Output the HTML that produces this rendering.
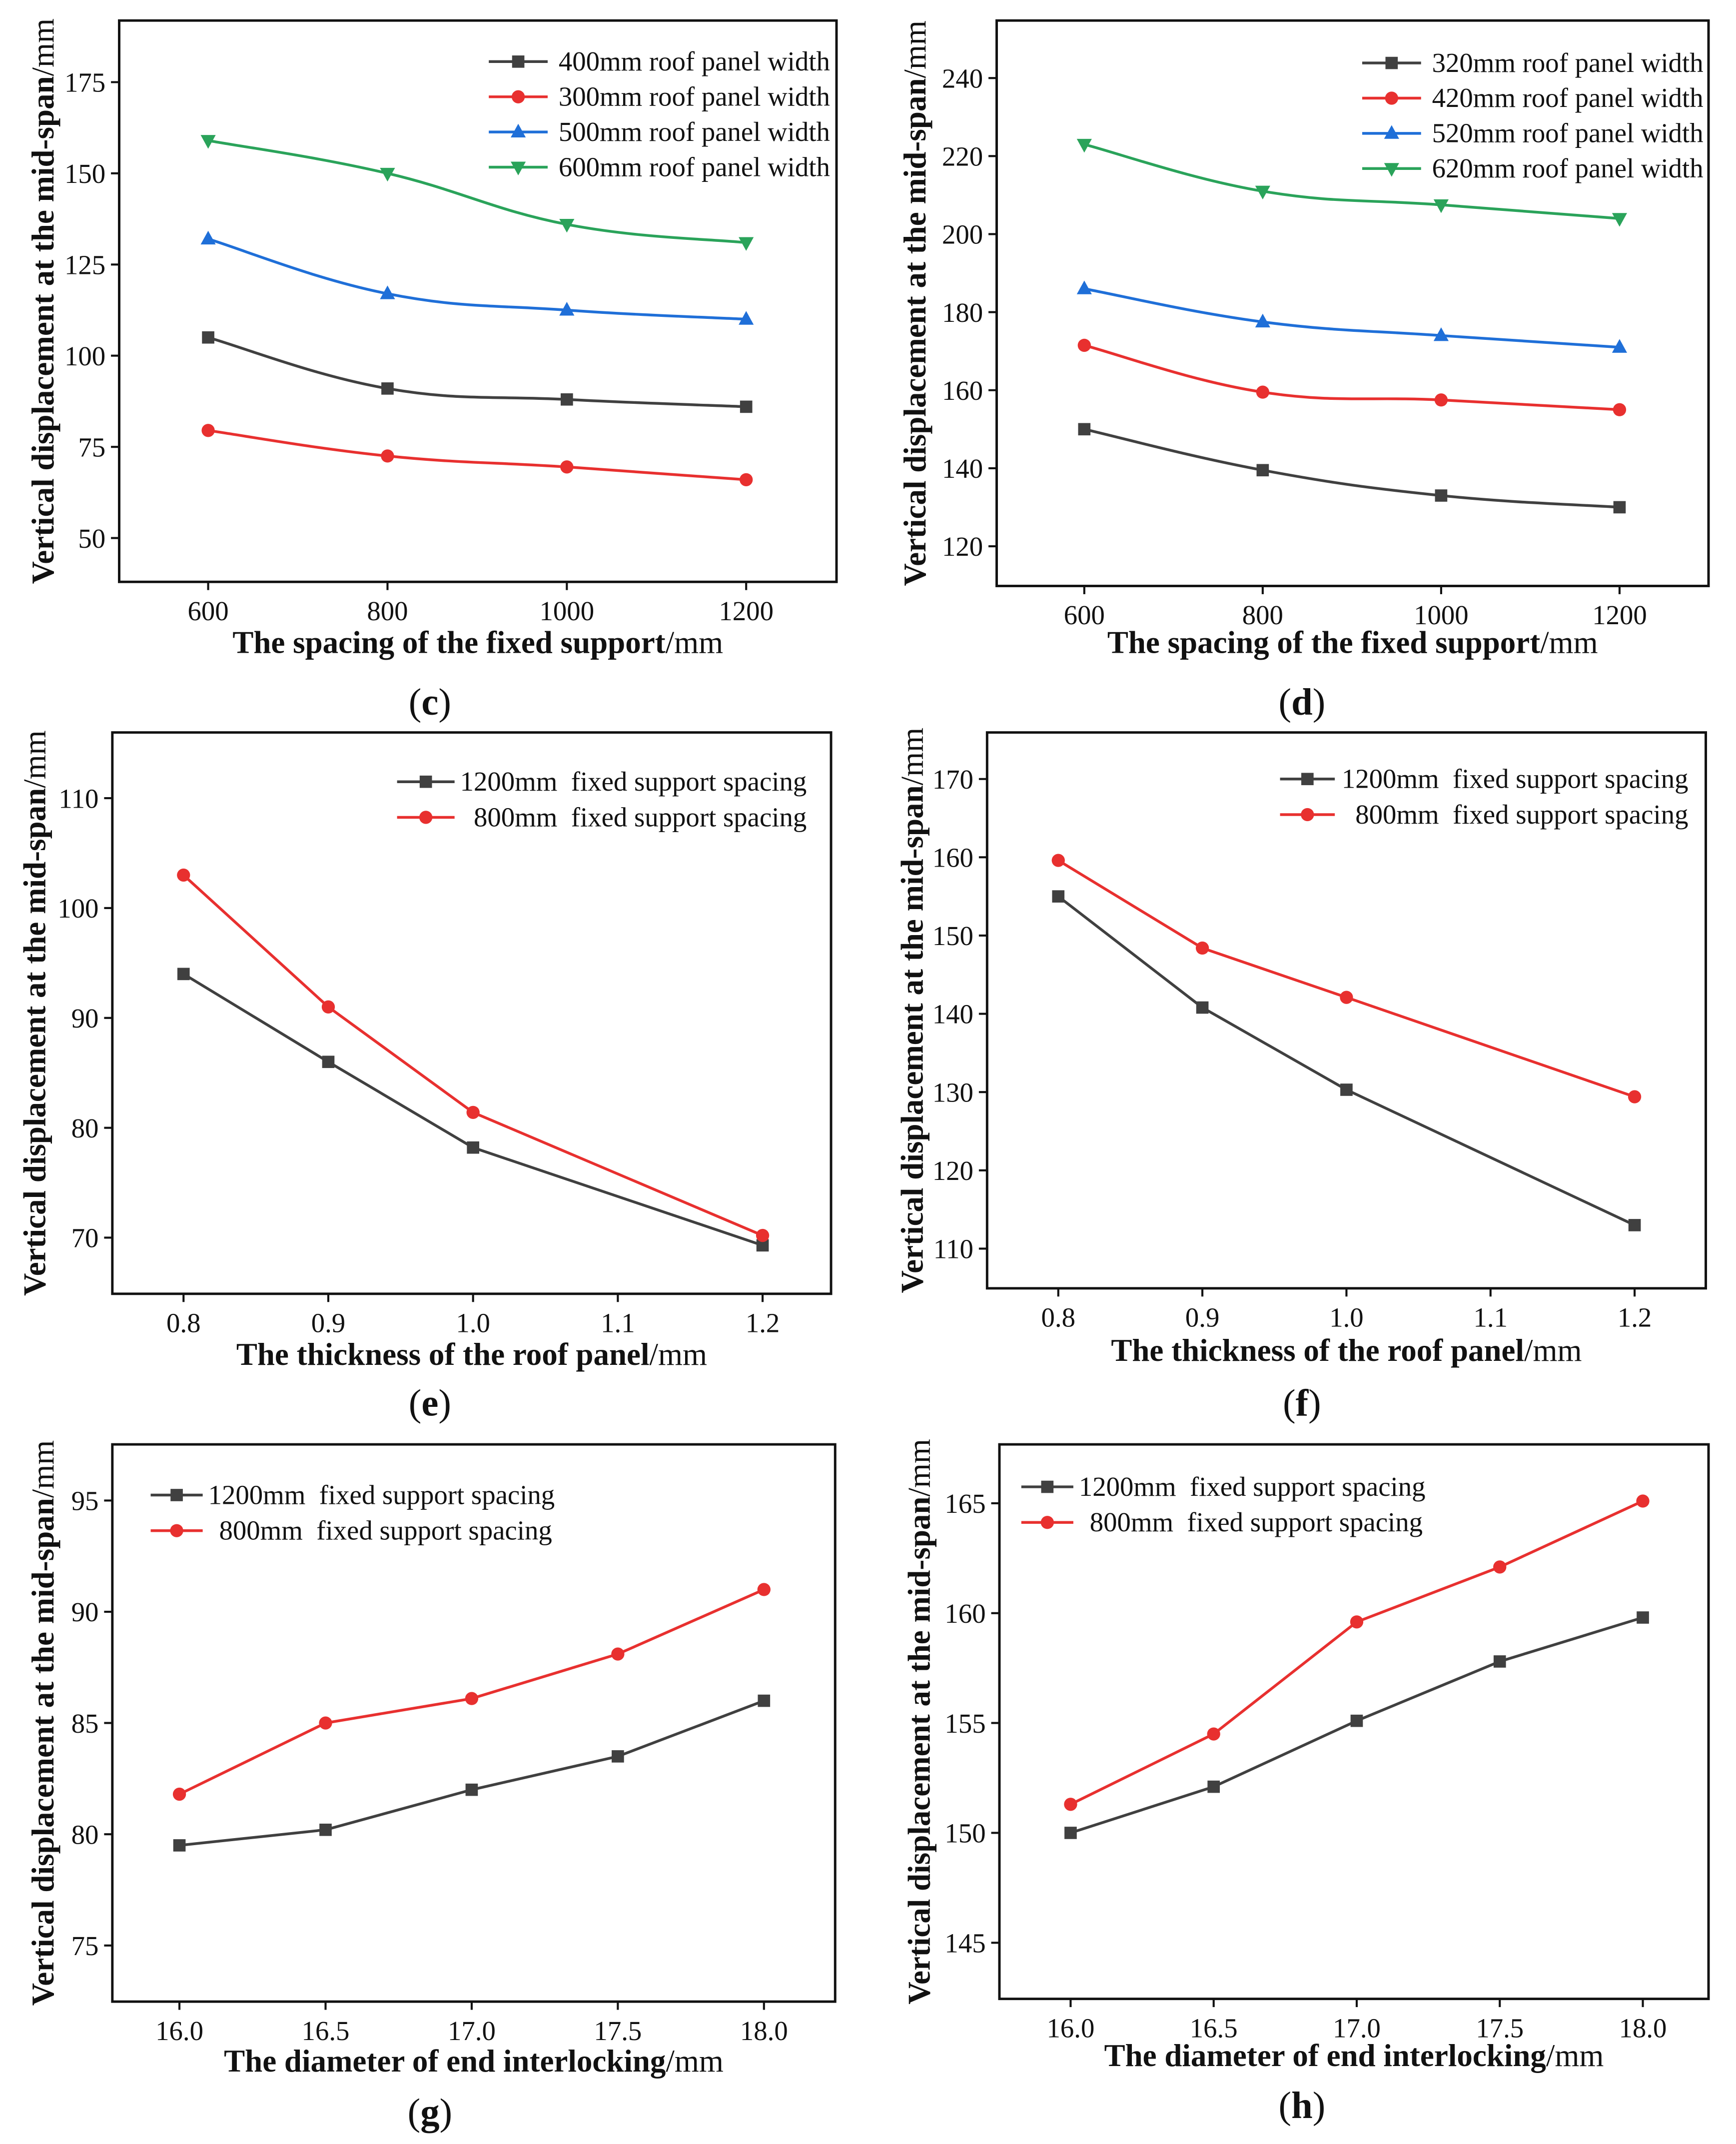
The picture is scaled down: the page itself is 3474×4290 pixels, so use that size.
<!DOCTYPE html>
<html><head><meta charset="utf-8">
<style>
html,body{margin:0;padding:0;background:#fff}
svg{display:block}
text{font-family:"Liberation Serif",serif;fill:#111;white-space:pre}
</style></head>
<body>
<svg id="root" xmlns="http://www.w3.org/2000/svg" width="3474" height="4290" viewBox="0 0 1268 1566"></svg>
<script>
// ---- data ----
const xC = [600, 800, 1000, 1200];
const c400 = [105, 91, 88, 86];
const c300 = [79.5, 72.5, 69.5, 66];
const c500 = [132, 117, 112.5, 110];
const c600 = [159, 150, 136, 131];
const xTicksC = [600, 800, 1000, 1200];
const yTicksC = [50, 75, 100, 125, 150, 175];

const xD = [600, 800, 1000, 1200];
const d320 = [150, 139.5, 133, 130];
const d420 = [171.5, 159.5, 157.5, 155];
const d520 = [186, 177.5, 174, 171];
const d620 = [223, 211, 207.5, 204];
const xTicksD = [600, 800, 1000, 1200];
const yTicksD = [120, 140, 160, 180, 200, 220, 240];

const xE = [0.8, 0.9, 1.0, 1.2];
const e1200 = [94, 86, 78.2, 69.3];
const e800 = [103, 91, 81.4, 70.2];
const xTicksE = [0.8, 0.9, 1.0, 1.1, 1.2];
const yTicksE = [70, 80, 90, 100, 110];

const xF = [0.8, 0.9, 1.0, 1.2];
const f1200 = [155, 140.8, 130.3, 113];
const f800 = [159.6, 148.4, 142.1, 129.4];
const xTicksF = [0.8, 0.9, 1.0, 1.1, 1.2];
const yTicksF = [110, 120, 130, 140, 150, 160, 170];

const xG = [16, 16.5, 17, 17.5, 18];
const g1200 = [79.5, 80.2, 82, 83.5, 86];
const g800 = [81.8, 85, 86.1, 88.1, 91];
const xTicksG = [16, 16.5, 17, 17.5, 18];
const yTicksG = [75, 80, 85, 90, 95];

const xH = [16, 16.5, 17, 17.5, 18];
const h1200 = [150, 152.1, 155.1, 157.8, 159.8];
const h800 = [151.3, 154.5, 159.6, 162.1, 165.1];
const xTicksH = [16, 16.5, 17, 17.5, 18];
const yTicksH = [145, 150, 155, 160, 165];

// ---- drawing ----
const NS = "http://www.w3.org/2000/svg";
const root = document.getElementById('root');
function mk(tag, attrs, parent) {
  const e = document.createElementNS(NS, tag);
  for (const k in attrs) e.setAttribute(k, attrs[k]);
  (parent || root).appendChild(e);
  return e;
}
const COL = {black:'#404040', red:'#e8302f', blue:'#1f6fd8', green:'#2aa35a'};
function marker(g, type, x, y, col) {
  let m;
  if (type === 'sq') m = mk('rect', {x:x-4.5, y:y-4.5, width:9, height:9, fill:col}, g);
  else if (type === 'ci') m = mk('circle', {cx:x, cy:y, r:4.8, fill:col}, g);
  else if (type === 'up') m = mk('polygon', {points:`${x},${y-6} ${x-5.5},${y+4} ${x+5.5},${y+4}`, fill:col}, g);
  else m = mk('polygon', {points:`${x},${y+6} ${x-5.5},${y-4} ${x+5.5},${y-4}`, fill:col}, g);
  
  
}
function smoothPath(pts) {
  let d = `M${pts[0][0]},${pts[0][1]}`;
  for (let i = 0; i < pts.length - 1; i++) {
    const p0 = pts[i-1] || pts[i], p1 = pts[i], p2 = pts[i+1], p3 = pts[i+2] || p2;
    const t = 0.2;
    const c1 = [p1[0] + (p2[0]-p0[0])*t, p1[1] + (p2[1]-p0[1])*t];
    const c2 = [p2[0] - (p3[0]-p1[0])*t, p2[1] - (p3[1]-p1[1])*t];
    d += ` C${c1[0]},${c1[1]} ${c2[0]},${c2[1]} ${p2[0]},${p2[1]}`;
  }
  return d;
}
function panel(cfg) {
  const g = mk('g', {});
  
  
  const X = v => cfg.xp0 + (v - cfg.xv0) * (cfg.xp1 - cfg.xp0) / (cfg.xv1 - cfg.xv0);
  const Y = v => cfg.yp0 + (v - cfg.yv0) * (cfg.yp1 - cfg.yp0) / (cfg.yv1 - cfg.yv0);
  const box = mk('rect', {x:cfg.bx0, y:cfg.by0, width:cfg.bx1-cfg.bx0, height:cfg.by1-cfg.by0, fill:'none', stroke:'#111', 'stroke-width':1.8}, g);
  
  
  cfg.xt.forEach(v => {
    const x = X(v);
    mk('line', {x1:x, y1:cfg.by1, x2:x, y2:cfg.by1+6, stroke:'#111', 'stroke-width':1.5}, g);
    const t = mk('text', {x:x, y:cfg.by1+28, 'font-size':20, 'text-anchor':'middle'}, g);
    t.textContent = cfg.xfmt ? cfg.xfmt(v) : v;
    
    
  });
  cfg.yt.forEach(v => {
    const y = Y(v);
    mk('line', {x1:cfg.bx0-6, y1:y, x2:cfg.bx0, y2:y, stroke:'#111', 'stroke-width':1.5}, g);
    const t = mk('text', {x:cfg.bx0-10, y:y+7, 'font-size':20, 'text-anchor':'end'}, g);
    t.textContent = v;
    
    
  });
  cfg.series.forEach(s => {
    const pts = s.v.map((v, i) => [X(cfg.x[i]), Y(v)]);
    const d = cfg.smooth ? smoothPath(pts) : 'M' + pts.map(p => p.join(',')).join(' L');
    const p = mk('path', {d:d, fill:'none', stroke:s.c, 'stroke-width':2}, g);
    
    
    pts.forEach(pt => marker(g, s.m, pt[0], pt[1], s.c));
  });
  cfg.series.forEach((s, i) => {
    const ly = cfg.ly + i * cfg.ld;
    const lg = mk('g', {}, g);
    
    
    mk('line', {x1:cfg.lx0, y1:ly, x2:cfg.lx1, y2:ly, stroke:s.c, 'stroke-width':2}, lg);
    marker(lg, s.m, (cfg.lx0+cfg.lx1)/2, ly, s.c);
    const t = mk('text', {x:cfg.ltx + (s.lo||0), y:ly+6.5, 'font-size':20}, lg);
    t.textContent = s.label;
  });
  const xt = mk('text', {x:(cfg.bx0+cfg.bx1)/2, y:cfg.xty, 'font-size':23, 'text-anchor':'middle'}, g);
  
  
  mk('tspan', {'font-weight':'bold'}, xt).textContent = cfg.xtitle;
  mk('tspan', {}, xt).textContent = '/mm';
  const cy = (cfg.by0+cfg.by1)/2;
  const yt = mk('text', {x:cfg.ytx, y:cy, 'font-size':23, 'text-anchor':'middle', transform:`rotate(-90 ${cfg.ytx} ${cy})`}, g);
  
  
  mk('tspan', {'font-weight':'bold'}, yt).textContent = 'Vertical displacement at the mid-span';
  mk('tspan', {}, yt).textContent = '/mm';
  const lab = mk('text', {x:cfg.labx, y:cfg.laby, 'font-size':28, 'text-anchor':'middle'}, g);
  
  
  mk('tspan', {}, lab).textContent = '(';
  mk('tspan', {'font-weight':'bold'}, lab).textContent = cfg.lab;
  mk('tspan', {}, lab).textContent = ')';
}
const f1 = v => v.toFixed(1);
panel({name:'chart-c', bx0:87, bx1:611, by0:15, by1:425, xv0:600, xp0:152, xv1:1200, xp1:545, yv0:50, yp0:393, yv1:175, yp1:60,
  x:xC, xt:xTicksC, yt:yTicksC, smooth:true,
  series:[{v:c400,c:COL.black,m:'sq',label:'400mm roof panel width'},{v:c300,c:COL.red,m:'ci',label:'300mm roof panel width'},
          {v:c500,c:COL.blue,m:'up',label:'500mm roof panel width'},{v:c600,c:COL.green,m:'dn',label:'600mm roof panel width'}],
  lx0:357, lx1:400, ltx:408, ly:45, ld:25.7, xtitle:'The spacing of the fixed support', xty:477, ytx:39, lab:'c', labx:314, laby:522});
panel({name:'chart-d', bx0:728, bx1:1248, by0:15, by1:428, xv0:600, xp0:792, xv1:1200, xp1:1183, yv0:120, yp0:399, yv1:240, yp1:57,
  x:xD, xt:xTicksD, yt:yTicksD, smooth:true,
  series:[{v:d320,c:COL.black,m:'sq',label:'320mm roof panel width'},{v:d420,c:COL.red,m:'ci',label:'420mm roof panel width'},
          {v:d520,c:COL.blue,m:'up',label:'520mm roof panel width'},{v:d620,c:COL.green,m:'dn',label:'620mm roof panel width'}],
  lx0:995, lx1:1038, ltx:1046, ly:46, ld:25.7, xtitle:'The spacing of the fixed support', xty:477, ytx:676, lab:'d', labx:951, laby:522});
panel({name:'chart-e', bx0:82, bx1:607, by0:535, by1:945, xv0:0.8, xp0:134, xv1:1.2, xp1:557, yv0:70, yp0:904, yv1:110, yp1:583,
  x:xE, xt:xTicksE, yt:yTicksE, xfmt:f1,
  series:[{v:e1200,c:COL.black,m:'sq',label:'1200mm  fixed support spacing'},{v:e800,c:COL.red,m:'ci',label:'800mm  fixed support spacing',lo:10}],
  lx0:290, lx1:332, ltx:336, ly:571, ld:26, xtitle:'The thickness of the roof panel', xty:997, ytx:33, lab:'e', labx:314, laby:1034});
panel({name:'chart-f', bx0:721, bx1:1246, by0:535, by1:941, xv0:0.8, xp0:773, xv1:1.2, xp1:1194, yv0:110, yp0:912, yv1:170, yp1:569,
  x:xF, xt:xTicksF, yt:yTicksF, xfmt:f1,
  series:[{v:f1200,c:COL.black,m:'sq',label:'1200mm  fixed support spacing'},{v:f800,c:COL.red,m:'ci',label:'800mm  fixed support spacing',lo:10}],
  lx0:935, lx1:975, ltx:980, ly:569, ld:26, xtitle:'The thickness of the roof panel', xty:994, ytx:674, lab:'f', labx:951, laby:1034});
panel({name:'chart-g', bx0:82, bx1:610, by0:1055, by1:1462, xv0:16, xp0:131, xv1:18, xp1:558, yv0:75, yp0:1421, yv1:95, yp1:1096,
  x:xG, xt:xTicksG, yt:yTicksG, xfmt:f1,
  series:[{v:g1200,c:COL.black,m:'sq',label:'1200mm  fixed support spacing'},{v:g800,c:COL.red,m:'ci',label:'800mm  fixed support spacing',lo:8}],
  lx0:110, lx1:148, ltx:152, ly:1092, ld:26, xtitle:'The diameter of end interlocking', xty:1513, ytx:39, lab:'g', labx:314, laby:1552});
panel({name:'chart-h', bx0:730, bx1:1248, by0:1055, by1:1460, xv0:16, xp0:782, xv1:18, xp1:1200, yv0:145, yp0:1419, yv1:165, yp1:1098,
  x:xH, xt:xTicksH, yt:yTicksH, xfmt:f1,
  series:[{v:h1200,c:COL.black,m:'sq',label:'1200mm  fixed support spacing'},{v:h800,c:COL.red,m:'ci',label:'800mm  fixed support spacing',lo:8}],
  lx0:746, lx1:784, ltx:788, ly:1086, ld:26, xtitle:'The diameter of end interlocking', xty:1509, ytx:679, lab:'h', labx:951, laby:1547});
</script>
</body></html>
